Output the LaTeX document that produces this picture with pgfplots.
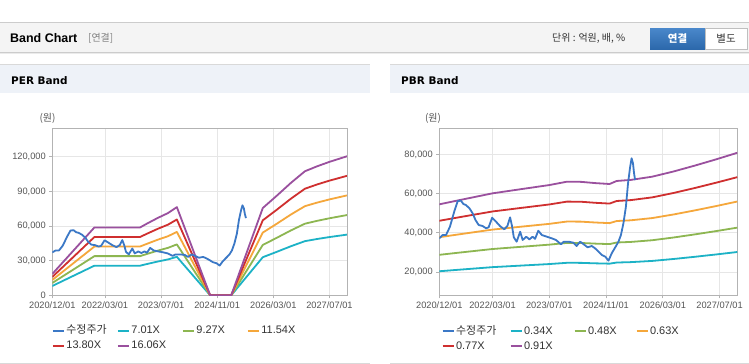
\documentclass[border=0pt]{standalone}
\usepackage{pgfplots}
\pgfplotsset{compat=1.18}
\usepackage{pgfplotstable}
\usepackage{fontspec}
\setmainfont{Liberation Sans}
\newfontfamily\kr{Noto Sans CJK KR}
\newfontfamily\dv{DejaVu Sans}
\definecolor{cPrice}{HTML}{3B78C6}
\definecolor{cTeal}{HTML}{1CB2C6}
\definecolor{cGreen}{HTML}{8DB651}
\definecolor{cOrange}{HTML}{F5A73B}
\definecolor{cRed}{HTML}{CF2F2F}
\definecolor{cPurple}{HTML}{9A509E}
\definecolor{gridc}{HTML}{E6E6E6}
\definecolor{axc}{HTML}{B3B3B3}
\definecolor{tickc}{HTML}{555555}
\definecolor{txt}{HTML}{333333}
\definecolor{hdr}{HTML}{F4F4F4}
\definecolor{phdr}{HTML}{EEF2F8}
\definecolor{lnc}{HTML}{CCCCCC}
\definecolor{btnA}{HTML}{4A88CB}
\definecolor{btnB}{HTML}{2C68AB}

\pgfplotstableread{
m a b c d e
0 8083 10688 13306 15911 18517
12 25664 33937 42248 50522 58796
25 25664 33937 42248 50522 58796
27 27129 35875 44660 53406 62152
30 29232 38656 48122 57546 66970
33 31124 41159 51238 61272 71306
35.5 33368 44125 54930 65688 76446
45 0 0 0 0 0
51 0 0 0 0 0
60 33017 43662 54353 64998 75643
64 37693 49845 62051 74203 86355
68 42516 56223 69990 83697 97404
72 46925 62053 77249 92377 107506
75.5 48811 64547 80353 96089 111826
79 50486 66763 83111 99388 115664
84 52596 69553 86585 103541 120498
}\perband

\pgfplotstableread{
m a b c d e
0 20366 28752 37737 46123 54509
6 21216 29952 39312 48048 56784
15 22464 31714 41624 50874 60124
23 23256 32832 43092 52668 62244
31 24041 33941 44547 54447 64346
36 24684 34848 45738 55902 66066
40 24650 34800 45675 55825 65975
44 24412 34464 45234 55286 65338
48 24242 34224 44919 54901 64883
50 24820 35040 45990 56210 66430
54 25024 35328 46368 56672 66976
60 25636 36192 47502 58058 68614
66 26622 37584 49329 60291 71253
72 27744 39168 51408 62832 74256
78 28934 40848 53613 65527 77441
84 30192 42624 55944 68376 80808
}\pbrband

\pgfplotstableread{
m v
0 37180
0.95 38860
1.9 38860
3.0 43100
4.2 50740
5.2 56200
6.1 56350
6.8 54670
7.5 54160
8.5 52470
9.4 49920
10.2 46510
11.1 43960
12.2 43450
13.2 42280
13.9 42790
14.9 47700
16.0 45640
17.1 43450
18.3 41770
19.2 43450
19.95 47880
20.5 43450
21.0 37690
21.8 35450
22.8 40550
23.5 36310
24.5 38000
25.4 36650
26.3 38000
27.0 36900
27.9 41060
28.9 38860
30.3 38000
31.7 37180
32.9 36310
34.3 34120
35.1 35450
36.5 35450
37.8 34940
38.7 33250
39.7 35450
40.6 34270
41.8 32590
43.0 33250
43.9 32080
44.9 30350
45.8 28670
46.8 27800
47.7 25760
48.6 29530
49.6 32590
50.5 35450
51.2 38860
51.9 44830
52.6 53290
53.2 65220
53.8 73680
54.2 78000
54.6 75410
54.9 70320
55.2 66900
}\price

\pgfplotsset{bandaxis/.style={
 scale only axis, anchor=south west,
 xmin=0, xmax=84,
 xtick={0,15,31,47,63,79},
 xticklabels={2020/12/01,2022/03/01,2023/07/01,2024/11/01,2026/03/01,2027/07/01},
 grid=major, grid style={draw=gridc, line width=0.8bp},
 axis line style={draw=axc, line width=0.8bp},
 tick style={draw=axc, line width=0.8bp},
 tick align=outside, major tick length=3bp,
 xtick pos=left, ytick pos=left,
 ticklabel style={font=\fontsize{9.3}{11}\selectfont, text=tickc},
 /pgf/number format/assume math mode=true,
 scaled y ticks=false,
 yticklabel style={/pgf/number format/fixed, /pgf/number format/precision=0, /pgf/number format/1000 sep={,}},
 legend columns=4, legend cell align=left,
 legend style={draw=none, fill=none, inner sep=0pt, anchor=north west,
   font=\fontsize{11}{12}\selectfont, text=txt, row sep=3.5bp,
   nodes={inner sep=1bp, text height=8bp, text depth=1.5bp}},
 legend image code/.code={\draw[#1, line width=2bp] (0bp,0bp) -- (11.5bp,0bp);},
 every axis plot/.append style={line width=1.8bp, line join=round},
}}

\begin{document}
\begin{tikzpicture}
\path[use as bounding box, fill=white] (0,0) rectangle (749bp,-364bp);
% top header
\fill[hdr] (0,-22bp) rectangle (749bp,-52.5bp);
\draw[lnc, line width=0.8bp] (0,-22bp) -- (749bp,-22bp);
\draw[lnc, line width=0.8bp] (0,-52.5bp) -- (749bp,-52.5bp);
\draw[black!8, line width=0.8bp] (0,-53.5bp) -- (749bp,-53.5bp);
\node[anchor=west, inner sep=0pt, font=\bfseries\fontsize{12.5}{14}\selectfont, text=black] at (10bp,-38bp) {Band Chart};
\node[anchor=west, inner sep=0pt, font=\kr\fontsize{10}{12}\selectfont, text=black!50] at (88bp,-38bp) {[연결]};
\node[anchor=west, inner sep=0pt, font=\kr\fontsize{10}{12}\selectfont, text=txt] at (552bp,-38bp) {단위 : 억원, 배, \%};
\shade[top color=btnA, bottom color=btnB] (650bp,-28bp) rectangle (705bp,-49bp);
\node[inner sep=0pt, font=\kr\bfseries\fontsize{10.5}{12}\selectfont, text=white] at (677.5bp,-38.5bp) {연결};
\draw[fill=white, draw=black!25, line width=0.8bp] (705bp,-28bp) rectangle (747bp,-49bp);
\node[inner sep=0pt, font=\kr\fontsize{10.5}{12}\selectfont, text=txt] at (726bp,-38.5bp) {별도};
% panels
\fill[phdr] (0,-65bp) rectangle (370bp,-93bp);
\draw[black!15, line width=0.8bp] (0,-64.7bp) -- (370bp,-64.7bp);
\draw[black!15, line width=0.8bp] (0,-363bp) -- (370bp,-363bp);
\node[anchor=west, inner sep=0pt, font=\dv\bfseries\fontsize{10.5}{12}\selectfont, text=black] at (11bp,-80.7bp) {PER Band};
\fill[phdr] (390bp,-65bp) rectangle (749bp,-93bp);
\draw[black!15, line width=0.8bp] (390bp,-64.7bp) -- (749bp,-64.7bp);
\draw[black!15, line width=0.8bp] (390bp,-363bp) -- (749bp,-363bp);
\node[anchor=west, inner sep=0pt, font=\dv\bfseries\fontsize{10.5}{12}\selectfont, text=black] at (401bp,-80.7bp) {PBR Band};
\node[inner sep=0pt, font=\kr\fontsize{10}{12}\selectfont, text=tickc] at (47.5bp,-118.3bp) {(원)};
\node[inner sep=0pt, font=\kr\fontsize{10}{12}\selectfont, text=tickc] at (433bp,-118.7bp) {(원)};

\begin{axis}[bandaxis, at={(52.3bp,-295.3bp)}, width=294.7bp, height=167.3bp,
  ymin=0, ymax=145000, ytick={0,30000,60000,90000,120000},
  legend style={at={(axis description cs:-0.002,-0.176)}}]
\addlegendimage{cPrice}\addlegendentry{\makebox[49.5bp][l]{\kr 수정주가}}
\addplot[cTeal] table[x=m,y=a]{\perband};\addlegendentry{\makebox[49.5bp][l]{7.01X}}
\addplot[cGreen] table[x=m,y=b]{\perband};\addlegendentry{\makebox[49.5bp][l]{9.27X}}
\addplot[cOrange] table[x=m,y=c]{\perband};\addlegendentry{\makebox[49.5bp][l]{11.54X}}
\addplot[cRed] table[x=m,y=d]{\perband};\addlegendentry{\makebox[49.5bp][l]{13.80X}}
\addplot[cPurple] table[x=m,y=e]{\perband};\addlegendentry{\makebox[49.5bp][l]{16.06X}}
\addplot[cPrice, forget plot] table[x=m,y=v]{\price};
\end{axis}

\begin{axis}[bandaxis, at={(439.3bp,-295.3bp)}, width=298bp, height=167bp,
  ymin=8100, ymax=93300, ytick={20000,40000,60000,80000},
  legend style={at={(axis description cs:0.007,-0.177)}}]
\addlegendimage{cPrice}\addlegendentry{\makebox[52.5bp][l]{\kr 수정주가}}
\addplot[cTeal] table[x=m,y=a]{\pbrband};\addlegendentry{\makebox[48.5bp][l]{0.34X}}
\addplot[cGreen] table[x=m,y=b]{\pbrband};\addlegendentry{\makebox[46.5bp][l]{0.48X}}
\addplot[cOrange] table[x=m,y=c]{\pbrband};\addlegendentry{\makebox[46.5bp][l]{0.63X}}
\addplot[cRed] table[x=m,y=d]{\pbrband};\addlegendentry{\makebox[52.5bp][l]{0.77X}}
\addplot[cPurple] table[x=m,y=e]{\pbrband};\addlegendentry{\makebox[48.5bp][l]{0.91X}}
\addplot[cPrice, forget plot] table[x=m,y=v]{\price};
\end{axis}
\end{tikzpicture}
\end{document}
